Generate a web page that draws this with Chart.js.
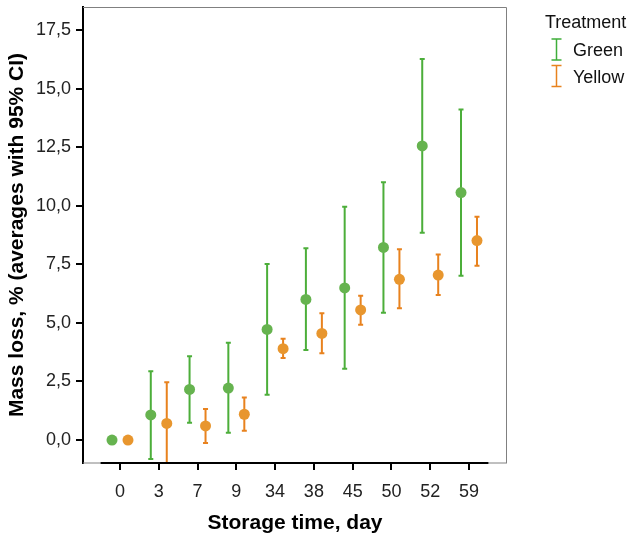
<!DOCTYPE html>
<html>
<head>
<meta charset="utf-8">
<script src="https://cdn.jsdelivr.net/npm/chart.js@4.4.1/dist/chart.umd.min.js"></script>
<style>
  html, body { margin: 0; padding: 0; background: #fff; overflow: hidden; }
</style>
</head>
<body>
<canvas id="chart" width="631" height="537"></canvas>
<script>
/* Mass loss vs storage time — means with 95% CI, two treatments */
const DAYS = ["0", "3", "7", "9", "34", "38", "45", "50", "52", "59"];

const GREEN_MEAN = [0, 1.07, 2.16, 2.22, 4.72, 6.00, 6.49, 8.22, 12.55, 10.56];
const GREEN_LO   = [null, -0.81, 0.74, 0.31, 1.93, 3.84, 3.04, 5.43, 8.85, 7.01];
const GREEN_HI   = [null, 2.94, 3.58, 4.15, 7.51, 8.18, 9.96, 11.00, 16.26, 14.11];

const YELLOW_MEAN = [0, 0.71, 0.60, 1.10, 3.90, 4.55, 5.55, 6.86, 7.04, 8.51];
const YELLOW_LO   = [null, -1.05, -0.13, 0.40, 3.50, 3.70, 4.92, 5.62, 6.19, 7.44];
const YELLOW_HI   = [null, 2.47, 1.32, 1.81, 4.32, 5.41, 6.16, 8.14, 7.92, 9.53];

const Y_TICKS = [0, 2.5, 5, 7.5, 10, 12.5, 15, 17.5];
const SERIES = ["Green", "Yellow"];

const FONT = "'Liberation Sans', Arial, sans-serif";
const COLORS = {
  green:  { dot: "#66b34f", bar: "#4cae3a", key: "#3fae3a" },
  yellow: { dot: "#e8962e", bar: "#e8821e", key: "#e8821e" },
};
const DODGE = 0.206; // horizontal shift of each group inside a category

const fmt = v => v.toFixed(1).replace(".", ",");
const pts = (arr, shift) => arr.map((v, i) => ({ x: i + shift, y: v }));

// error bars (drawn under the points)
const errorBars = {
  id: "errorBars",
  beforeDatasetsDraw(chart) {
    const { ctx, chartArea: a, scales: { x, y } } = chart;
    ctx.save();
    ctx.beginPath();
    ctx.rect(a.left, a.top, a.right - a.left, a.bottom - a.top);
    ctx.clip();
    chart.data.datasets.forEach(ds => {
      ctx.strokeStyle = ds.barColor;
      ctx.lineWidth = 2;
      ds.data.forEach((p, i) => {
        const lo = ds.errLo[i], hi = ds.errHi[i];
        if (lo == null || hi == null) return;
        const px = x.getPixelForValue(p.x);
        const y1 = y.getPixelForValue(hi), y2 = y.getPixelForValue(lo);
        ctx.beginPath();
        ctx.moveTo(px, y1); ctx.lineTo(px, y2);
        ctx.moveTo(px - 2.5, y1); ctx.lineTo(px + 2.5, y1);
        ctx.moveTo(px - 2.5, y2); ctx.lineTo(px + 2.5, y2);
        ctx.stroke();
      });
    });
    ctx.restore();
  },
};

// frame: grey box, black x baseline over the category span, legend on the right
const frame = {
  id: "frame",
  afterDraw(chart) {
    const { ctx, chartArea: a, scales: { x } } = chart;
    ctx.save();
    ctx.strokeStyle = "#808080";
    ctx.lineWidth = 1;
    ctx.beginPath();
    ctx.moveTo(a.left, a.top + 0.5); ctx.lineTo(a.right - 0.5, a.top + 0.5);
    ctx.lineTo(a.right - 0.5, a.bottom);
    ctx.moveTo(a.left, a.bottom); ctx.lineTo(a.right, a.bottom);
    ctx.stroke();
    ctx.strokeStyle = "#000";
    ctx.lineWidth = 2;
    ctx.beginPath();
    ctx.moveTo(x.getPixelForValue(-0.5), a.bottom);
    ctx.lineTo(x.getPixelForValue(DAYS.length - 0.5), a.bottom);
    ctx.stroke();

    // legend
    ctx.fillStyle = "#111";
    ctx.textBaseline = "middle";
    ctx.textAlign = "left";
    ctx.font = "18px " + FONT;
    ctx.fillText("Treatment", 545, 23);
    const keys = [COLORS.green.key, COLORS.yellow.key];
    SERIES.forEach((name, i) => {
      const top = 39 + i * 26.5, bot = top + 21, cx = 556.5;
      ctx.strokeStyle = keys[i];
      ctx.lineWidth = 1.5;
      ctx.beginPath();
      ctx.moveTo(cx, top); ctx.lineTo(cx, bot);
      ctx.moveTo(cx - 5, top); ctx.lineTo(cx + 5, top);
      ctx.moveTo(cx - 5, bot); ctx.lineTo(cx + 5, bot);
      ctx.stroke();
      ctx.fillText(name, 573, top + 12.5);
    });
    ctx.restore();
  },
};

new Chart(document.getElementById("chart"), {
  type: "scatter",
  data: {
    datasets: [
      { label: SERIES[0], data: pts(GREEN_MEAN, -DODGE), errLo: GREEN_LO, errHi: GREEN_HI,
        pointBackgroundColor: COLORS.green.dot, barColor: COLORS.green.bar },
      { label: SERIES[1], data: pts(YELLOW_MEAN, DODGE), errLo: YELLOW_LO, errHi: YELLOW_HI,
        pointBackgroundColor: COLORS.yellow.dot, barColor: COLORS.yellow.bar },
    ],
  },
  options: {
    responsive: false,
    animation: false,
    devicePixelRatio: 1,
    layout: { padding: { left: 0, right: 124, top: 7, bottom: 0 } },
    elements: { point: { radius: 5.5, borderWidth: 0, hoverRadius: 5.5 } },
    plugins: { legend: { display: false }, tooltip: { enabled: false } },
    scales: {
      x: {
        type: "linear",
        min: -0.954,
        max: 9.98,
        afterBuildTicks: s => { s.ticks = DAYS.map((_, i) => ({ value: i })); },
        afterFit: s => { s.height = 74; s.paddingLeft = 0; s.paddingRight = 0; },
        ticks: { callback: v => DAYS[v], color: "#222", padding: 11, maxRotation: 0,
                 font: { family: FONT, size: 18 } },
        grid: { display: true, drawOnChartArea: false, tickLength: 7, tickColor: "#000", lineWidth: 2 },
        border: { display: false },
        title: { display: true, text: "Storage time, day", color: "#000",
                 font: { family: FONT, size: 21, weight: "bold" }, padding: { top: 0, bottom: 1.5 } },
      },
      y: {
        min: -0.98,
        max: 18.48,
        afterBuildTicks: s => { s.ticks = Y_TICKS.map(v => ({ value: v })); },
        afterFit: s => { s.width = 83; s.paddingTop = 0; s.paddingBottom = 0; },
        ticks: { callback: v => fmt(v), color: "#222", padding: 5, font: { family: FONT, size: 18 } },
        grid: { display: true, drawOnChartArea: false, tickLength: 7, tickColor: "#000", lineWidth: 2 },
        border: { display: true, color: "#000", width: 2 },
        title: { display: true, text: "Mass loss, % (averages with 95% CI)", color: "#000",
                 font: { family: FONT, size: 21, weight: "bold" }, padding: { top: 5, bottom: 0 } },
      },
    },
  },
  plugins: [errorBars, frame],
});
</script>
</body>
</html>
